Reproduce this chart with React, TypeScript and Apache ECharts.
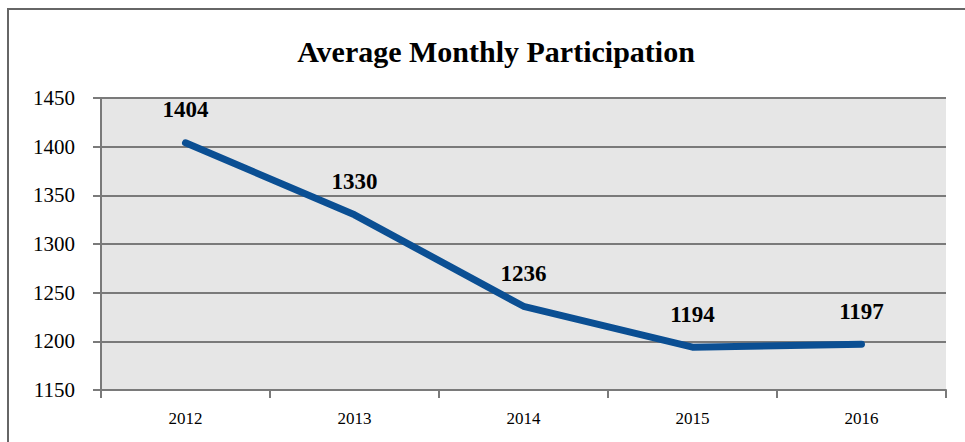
import React, { useEffect, useRef } from "react";
import * as echarts from "echarts";

const title = "Average Monthly Participation";
const years = ["2012", "2013", "2014", "2015", "2016"];
const participation = [1404, 1330, 1236, 1194, 1197];
const yMin = 1150;
const yMax = 1450;
const yStep = 50;

const FONT = "'Liberation Serif', 'DejaVu Serif', serif";

export default function App() {
  const ref = useRef<HTMLDivElement>(null);
  useEffect(() => {
    if (!ref.current) return;
    const chart = echarts.init(ref.current, undefined, { renderer: "svg" });
    chart.setOption({
      animation: false,
      backgroundColor: "#ffffff",
      title: {
        text: title,
        left: 491,
        top: 31,
        textAlign: "center",
        textStyle: { fontFamily: FONT, fontWeight: "bold", fontSize: 30, color: "#000" },
      },
      graphic: [
        { type: "line", shape: { x1: 8, y1: 9, x2: 965, y2: 9 }, style: { stroke: "#666", lineWidth: 2 } },
        { type: "line", shape: { x1: 8, y1: 8, x2: 8, y2: 442 }, style: { stroke: "#666", lineWidth: 2 } },
      ],
      grid: {
        left: 101,
        right: 19,
        top: 98,
        bottom: 52,
        show: true,
        backgroundColor: "#e6e6e6",
        borderWidth: 0,
      },
      xAxis: {
        type: "category",
        data: years,
        boundaryGap: true,
        axisLine: { show: true, lineStyle: { color: "#7a7a7a", width: 2 } },
        axisTick: { show: true, length: 8, lineStyle: { color: "#7a7a7a", width: 2 } },
        axisLabel: { fontFamily: FONT, fontSize: 17, color: "#000", margin: 20 },
        splitLine: { show: false },
      },
      yAxis: {
        type: "value",
        min: yMin,
        max: yMax,
        interval: yStep,
        axisLine: { show: true, lineStyle: { color: "#7a7a7a", width: 2 } },
        axisTick: { show: true, length: 8, lineStyle: { color: "#7a7a7a", width: 2 } },
        axisLabel: {
          fontFamily: FONT,
          fontSize: 21,
          color: "#000",
          margin: 26,
          formatter: (v: number) => String(v),
        },
        splitLine: { show: true, lineStyle: { color: "#7a7a7a", width: 2 } },
      },
      series: [
        {
          type: "line",
          data: participation,
          symbol: "circle",
          symbolSize: 3,
          showSymbol: true,
          itemStyle: { color: "#0b4f93" },
          lineStyle: { color: "#0b4f93", width: 7, cap: "round", join: "round" },
          label: {
            show: true,
            position: "top",
            distance: 20,
            fontFamily: FONT,
            fontWeight: "bold",
            fontSize: 23,
            color: "#000",
          },
        },
      ],
    });
    return () => chart.dispose();
  }, []);
  return (
    <div
      ref={ref}
      style={{ position: "absolute", left: 0, top: 0, width: 965, height: 442 }}
    />
  );
}
